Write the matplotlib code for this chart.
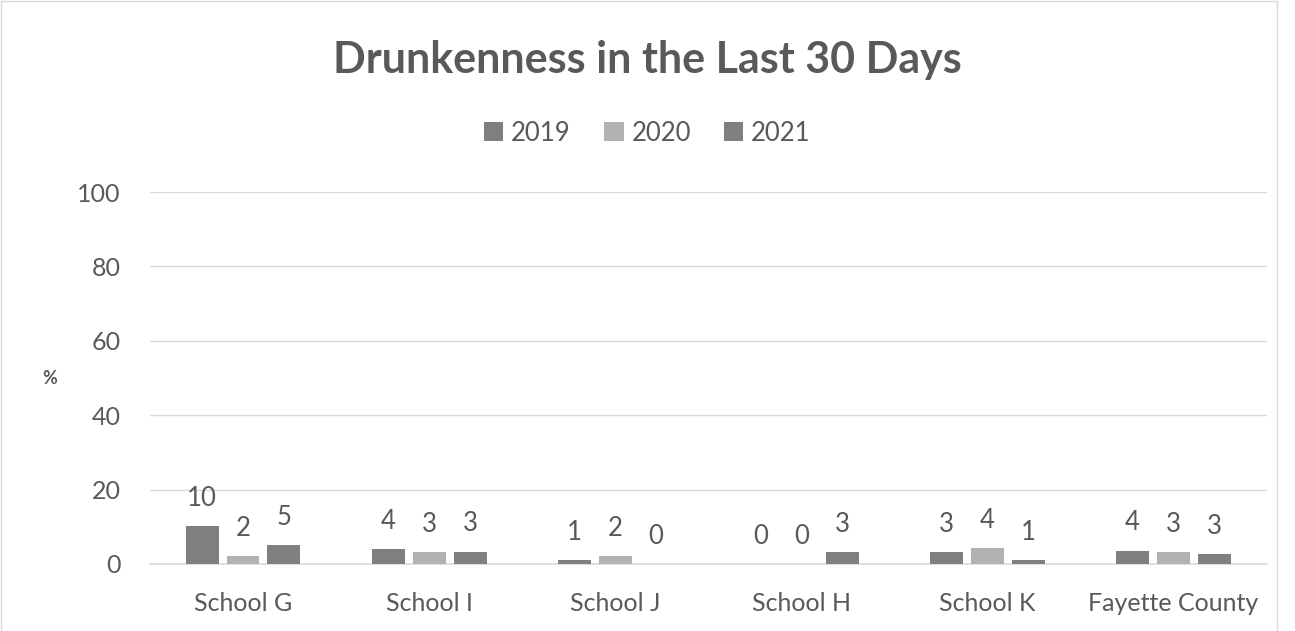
import numpy as np
import matplotlib.pyplot as plt
from matplotlib.patches import Rectangle

plt.rcParams['font.family'] = ['Lato', 'DejaVu Sans']

categories = ["School G", "School I", "School J", "School H", "School K", "Fayette County"]
years = ["2019", "2020", "2021"]
v2019 = [10.2, 4.0, 1.0, 0.0, 3.2, 3.6]
v2020 = [2.1, 3.2, 2.1, 0.0, 4.2, 3.1]
v2021 = [5.0, 3.3, 0.0, 3.2, 1.1, 2.7]
series = [v2019, v2020, v2021]
colors = ["#7f7f7f", "#b2b2b2", "#808080"]
text_col = "#595959"

fig = plt.figure(figsize=(12.95, 6.31), dpi=100)
ax = fig.add_axes([0.1158, 0.1062, 0.8622, 0.5895])

x = np.arange(len(categories))
width = 0.177
step = 0.22
for i, (vals, col, yr) in enumerate(zip(series, colors, years)):
    pos = x + (i - 1) * step
    bars = ax.bar(pos, vals, width=width, color=col, label=yr, zorder=3)
    ax.bar_label(bars, labels=[f"{v:.0f}" for v in vals], padding=11,
                 fontsize=18.5, color=text_col)

ax.set_xlim(-0.5, len(categories) - 0.5)
ax.set_ylim(0, 100)
ax.set_yticks(range(0, 101, 20))
ax.set_xticks(x)
ax.set_xticklabels(categories)
ax.tick_params(axis='both', length=0, labelsize=18, labelcolor=text_col)
ax.tick_params(axis='x', pad=20)
ax.tick_params(axis='y', pad=21)
ax.grid(axis='y', color='#d9d9d9', linewidth=1, zorder=0)
for s in ['top', 'right', 'left']:
    ax.spines[s].set_visible(False)
ax.spines['bottom'].set_color('#d9d9d9')
ax.spines['bottom'].set_linewidth(1.2)

fig.text(50 / 1295, 1 - 378 / 631, "%", ha='center', va='center', fontsize=13,
         fontweight='bold', color=text_col)

fig.text(0.5, 0.905, "Drunkenness in the Last 30 Days", ha='center', va='center',
         fontsize=31, fontweight='bold', color=text_col)
fig.legend(loc='center', bbox_to_anchor=(0.5, 0.789), ncol=3, frameon=False,
           fontsize=18.5, labelcolor=text_col, handlelength=0.75, handleheight=0.75,
           handletextpad=0.3, columnspacing=1.3)

fig.patches.append(Rectangle((0.001, -0.01), 0.985, 1.008, transform=fig.transFigure,
                             fill=False, edgecolor='#d9d9d9', linewidth=1))

fig.savefig("out.png", dpi=100)
